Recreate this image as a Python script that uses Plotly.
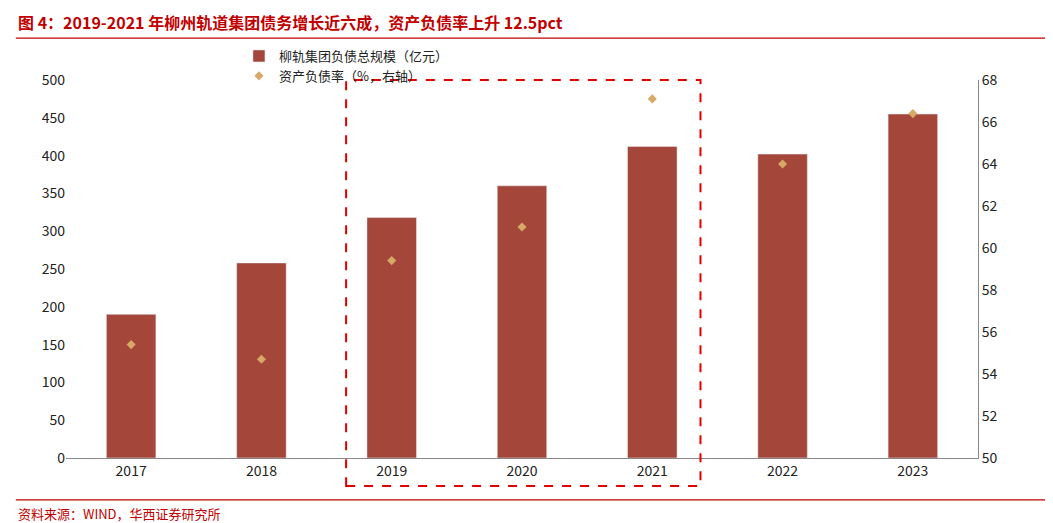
import plotly.graph_objects as go

years = ["2017", "2018", "2019", "2020", "2021", "2022", "2023"]
debt = [190, 258, 318, 360, 412, 402, 455]
ratio = [55.4, 54.7, 59.4, 61.0, 67.1, 64.0, 66.4]

F = "Noto Sans CJK SC"
fig = go.Figure()
fig.add_bar(x=years, y=debt, name="柳轨集团负债总规模（亿元）", marker_color="#A4463A", width=0.38)
fig.add_scatter(x=years, y=ratio, name="资产负债率（%，右轴）", mode="markers", yaxis="y2",
                marker=dict(symbol="diamond", size=7, color="#D7A866"))
fig.update_layout(
    width=1053, height=523, plot_bgcolor="white", paper_bgcolor="white",
    margin=dict(l=58, r=83, t=72, b=73),
    font=dict(family=F, size=14, color="#222"),
    showlegend=True,
    legend=dict(orientation="h", x=0.23, xanchor="left", y=1.037, yanchor="middle",
                font=dict(size=13), itemwidth=30, entrywidth=360, bgcolor="rgba(0,0,0,0)"),
    xaxis=dict(showline=True, linecolor="#888", ticks="", showgrid=False),
    yaxis=dict(range=[0, 500], dtick=50, showgrid=False, showline=False, ticks=""),
    yaxis2=dict(range=[50, 68], dtick=2, overlaying="y", side="right", showgrid=False,
                showline=True, linecolor="#888", ticks=""),
)
fig.add_annotation(text="<b>图 4：2019-2021 年柳州轨道集团债务增长近六成，资产负债率上升 12.5pct</b>",
                   xref="paper", yref="paper", x=-0.055, y=1.153, xanchor="left", yanchor="middle",
                   showarrow=False, font=dict(size=16, color="#C00000", family=F))
fig.add_shape(type="line", xref="paper", yref="paper", x0=-0.055, x1=1.09, y0=1.111, y1=1.111,
              line=dict(color="#C00000", width=1.2), layer="above")
fig.add_shape(type="line", xref="paper", yref="paper", x0=-0.055, x1=1.09, y0=-0.111, y1=-0.111,
              line=dict(color="#C00000", width=1.2))
fig.add_annotation(text="资料来源：WIND，华西证券研究所", xref="paper", yref="paper", x=-0.055, y=-0.148,
                   xanchor="left", yanchor="middle", showarrow=False, font=dict(size=13, color="#C00000"))
fig.add_shape(type="rect", xref="x", yref="paper", x0=1.65, x1=4.37, y0=-0.074, y1=1.0,
              line=dict(color="#E00000", width=2, dash="dash"))
fig.write_html("out.html")
